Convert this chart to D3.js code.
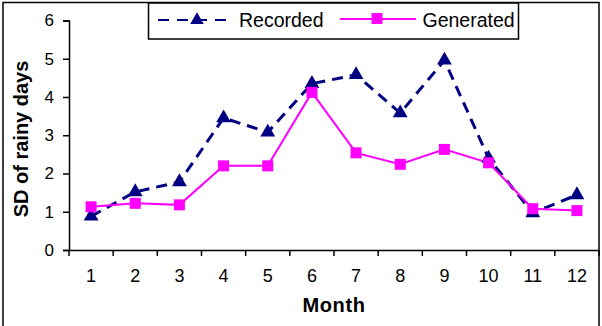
<!DOCTYPE html>
<html><head><meta charset="utf-8">
<script src="https://cdn.jsdelivr.net/npm/d3@7"></script>
<style>body{margin:0;background:#fff}svg{display:block}text{font-family:"Liberation Sans",Arial,sans-serif}</style>
</head><body>
<svg id="c" width="602" height="326"></svg>
<script>
const months = ["1","2","3","4","5","6","7","8","9","10","11","12"];
const recorded = [0.88, 1.52, 1.78, 3.45, 3.08, 4.35, 4.58, 3.58, 4.96, 2.4, 0.97, 1.44];
const generated = [1.13, 1.22, 1.18, 2.2, 2.2, 4.12, 2.54, 2.24, 2.63, 2.28, 1.08, 1.03];
const yTicks = [0,1,2,3,4,5,6];
const seriesNames = ["Recorded","Generated"];

const svg = d3.select("#c");
const x = d3.scaleBand().domain(months).range([69, 599]);
const y = d3.scaleLinear().domain([0,6]).range([250, 20.5]);

// outer border
svg.append("rect").attr("x",3).attr("y",2.5).attr("width",596).attr("height",360)
  .attr("fill","none").attr("stroke","#000").attr("stroke-width",1.5);

// y axis
const ya = svg.append("g").attr("transform","translate(69,0)")
  .call(d3.axisLeft(y).tickValues(yTicks).tickSize(6).tickPadding(9).tickFormat(d3.format("d")));
ya.select(".domain").attr("stroke","#000").attr("stroke-width",1.5);
ya.selectAll(".tick line").attr("stroke","#000").attr("stroke-width",1.5);
ya.selectAll("text").attr("font-size",17).attr("fill","#000").style("font-family","Liberation Sans, Arial, sans-serif");

// x axis
const xa = svg.append("g").attr("transform","translate(0,250)")
  .call(d3.axisBottom(x).tickSize(0).tickPadding(19));
xa.select(".domain").attr("stroke","#000").attr("stroke-width",1.5);
xa.selectAll("text").attr("font-size",18).attr("fill","#000").style("font-family","Liberation Sans, Arial, sans-serif");
const bounds = months.map(m => x(m)).concat([x.range()[1]]);
svg.append("g").selectAll("line").data(bounds).join("line")
  .attr("x1",d=>d).attr("x2",d=>d).attr("y1",250).attr("y2",256)
  .attr("stroke","#000").attr("stroke-width",1.5);

// axis titles
svg.append("text").attr("x",334).attr("y",312).attr("text-anchor","middle")
  .attr("font-size",20).attr("font-weight","bold").attr("letter-spacing",0.6).text("Month");
svg.append("text").attr("transform","translate(28,139) rotate(-90)").attr("text-anchor","middle")
  .attr("font-size",20).attr("font-weight","bold").text("SD of rainy days");

const cx = m => x(m) + x.bandwidth()/2;
const line = d3.line().x((d,i)=>cx(months[i])).y(d=>y(d));
const tri = d3.symbol().type(d3.symbolTriangle).size(95);
const triL = d3.symbol().type(d3.symbolTriangle).size(80);

// Recorded
svg.append("path").datum(recorded).attr("d",line).attr("fill","none")
  .attr("stroke","#000080").attr("stroke-width",3).attr("stroke-dasharray","11,7");
// Generated
svg.append("path").datum(generated).attr("d",line).attr("fill","none")
  .attr("stroke","#FF00FF").attr("stroke-width",2);

svg.append("g").selectAll("path").data(recorded).join("path")
  .attr("d",tri).attr("transform",(d,i)=>`translate(${cx(months[i])},${y(d)})`).attr("fill","#000080");
svg.append("g").selectAll("rect").data(generated).join("rect")
  .attr("x",(d,i)=>cx(months[i])-5.5).attr("y",d=>y(d)-5.5).attr("width",11).attr("height",11).attr("fill","#FF00FF");

// legend
const lg = svg.append("g");
lg.append("rect").attr("x",148.5).attr("y",3).attr("width",370).attr("height",36)
  .attr("fill","#fff").attr("stroke","#000").attr("stroke-width",1.5);
lg.append("line").attr("x1",158).attr("x2",234).attr("y1",20).attr("y2",20)
  .attr("stroke","#000080").attr("stroke-width",2).attr("stroke-dasharray","11,8");
lg.append("path").attr("d",triL).attr("transform","translate(197,20)").attr("fill","#000080");
lg.append("text").attr("x",239).attr("y",27).attr("font-size",19.5).text(seriesNames[0]);
lg.append("line").attr("x1",340).attr("x2",416).attr("y1",19).attr("y2",19)
  .attr("stroke","#FF00FF").attr("stroke-width",2);
lg.append("rect").attr("x",371.5).attr("y",13).attr("width",11).attr("height",11).attr("fill","#FF00FF");
lg.append("text").attr("x",422.5).attr("y",27).attr("font-size",19.5).text(seriesNames[1]);
</script>
</body></html>
